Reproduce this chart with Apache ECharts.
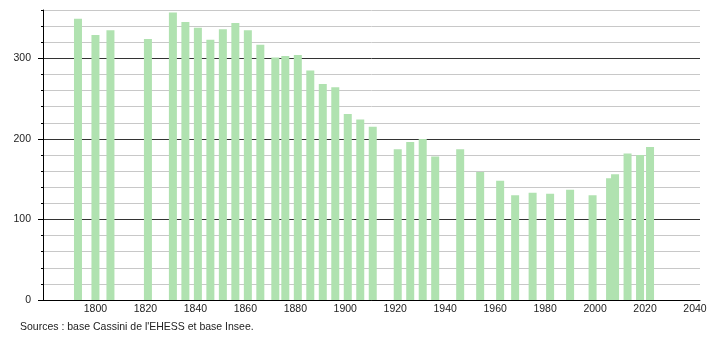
<!DOCTYPE html>
<html>
<head>
<meta charset="utf-8">
<script src="https://cdn.jsdelivr.net/npm/echarts@6/dist/echarts.min.js"></script>
<style>
html,body{margin:0;padding:0;background:#fff;}
#chart{width:710px;height:340px;}
</style>
</head>
<body>
<div id="chart"></div>
<script>
const years = [1793,1800,1806,1821,1831,1836,1841,1846,1851,1856,1861,1866,1872,1876,1881,1886,1891,1896,1901,1906,1911,1921,1926,1931,1936,1946,1954,1962,1968,1975,1982,1990,1999,2006,2008,2013,2018,2022];
const population = [349,329,335,324,357,345,338,323,336,344,335,317,301,303,304,285,268,264,231,224,215,187,196,200,178,187,159,148,130,133,132,137,130,151,156,182,180,190];
const xTickLabels = [1800,1820,1840,1860,1880,1900,1920,1940,1960,1980,2000,2020,2040];
const yTickLabels = [0,100,200,300];
const sourceText = "Sources : base Cassini de l'EHESS et base Insee.";

const font = "'Liberation Sans', Arial, sans-serif";
const chart = echarts.init(document.getElementById('chart'), null, {renderer:'canvas'});
chart.setOption({
  animation:false,
  backgroundColor:'#fff',
  grid:{left:43, right:10, top:10, bottom:40, containLabel:false},
  xAxis:{
    type:'value', min:1779, max:2042,
    axisLine:{show:true, lineStyle:{color:'#000', width:1}},
    axisTick:{show:false},
    splitLine:{show:false},
    axisLabel:{customValues:xTickLabels, formatter:v=>String(v), color:'#222', fontSize:10.5, fontFamily:font, margin:4}
  },
  yAxis:[{
    type:'value', min:0, max:360, interval:20,
    axisLine:{show:true, lineStyle:{color:'#000', width:1}},
    axisTick:{show:true, length:2, lineStyle:{color:'#000'}},
    axisLabel:{show:false},
    splitLine:{show:true, lineStyle:{color:['#333','#c8c8c8','#c8c8c8','#c8c8c8','#c8c8c8'], width:1}}
  },{
    type:'value', min:0, max:360, position:'left',
    axisLine:{show:false},
    axisTick:{show:true, length:5, customValues:yTickLabels, lineStyle:{color:'#000'}},
    axisLabel:{customValues:yTickLabels, formatter:v=>String(v), color:'#222', fontSize:10.5, fontFamily:font, margin:12},
    splitLine:{show:false}
  }],
  series:[{
    type:'bar',
    barWidth:8,
    itemStyle:{color:'#b0e2b0'},
    data: years.map((y,i)=>[y, population[i]])
  }],
  graphic:[{
    type:'text', left:20, top:322,
    style:{text:sourceText, fill:'#222', font:'10.5px ' + font}
  }]
});
</script>
</body>
</html>
